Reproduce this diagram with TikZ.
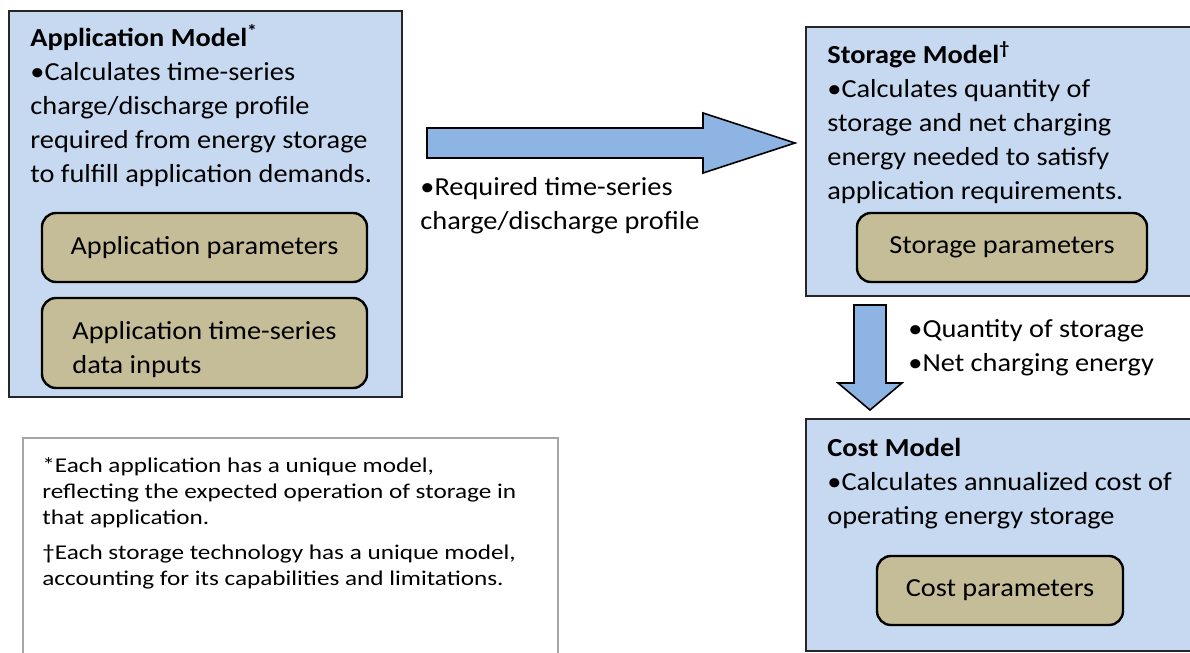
\documentclass[tikz,border=0pt]{standalone}
\usepackage{fontspec}
\setmainfont{Carlito}[FakeStretch=1.09]
\newfontfamily\notefont{Carlito}[FakeStretch=1.2]
\usepackage{tikz}

\definecolor{modelblue}{HTML}{C6D9F1}
\definecolor{paramtan}{HTML}{C4BD97}
\definecolor{flowblue}{HTML}{8EB4E3}
\definecolor{notegray}{HTML}{A6A6A6}

\tikzset{
  model/.style={draw=black!85, line width=1pt, fill=modelblue, anchor=north west, inner sep=0pt},
  param/.style={draw=black, line width=1.2pt, fill=paramtan, rounded corners=7pt, inner sep=0pt,
    font=\fontsize{13}{17}\selectfont},
  body/.style={anchor=north west, inner sep=0pt, align=left, font=\fontsize{13}{17}\selectfont},
  flow/.style={draw=black, line width=0.8pt, fill=flowblue},
}
\newcommand{\firstline}{\rule{0pt}{13pt}}

\begin{document}
\begin{tikzpicture}[x=0.5pt, y=-0.5pt]
\clip (0,0) rectangle (1190,653);

% model boxes
\node[model, minimum width=196.5pt, minimum height=193pt] (appbox) at (8,10) {};
\node[model, minimum width=200pt, minimum height=134.5pt] (storebox) at (805,26) {};
\node[model, minimum width=200pt, minimum height=116pt] (costbox) at (805,418) {};
\node[anchor=north west, draw=notegray, line width=1pt, minimum width=267.5pt, minimum height=130pt, inner sep=0pt] (notebox) at (22,437) {};

% model texts
\node[body] (apptext) at (30,20) {\firstline\textbf{Application Model\textsuperscript{*}}\\
  •Calculates time-series\\ charge/discharge profile\\ required from energy storage\\ to fulfill application demands.};
\node[body] (storetext) at (827,37) {\firstline\textbf{Storage Model\textsuperscript{†}}\\
  •Calculates quantity of\\ storage and net charging\\ energy needed to satisfy\\ application requirements.};
\node[body] (costtext) at (827,430) {\firstline\textbf{Cost Model}\\
  •Calculates annualized cost of\\ operating energy storage};

% parameter boxes
\node[param, minimum width=162.5pt, minimum height=34.5pt] (appparam) at (204.5,247.5) {Application parameters};
\node[param, minimum width=162.5pt, minimum height=45pt, align=left] (appdata) at (204.5,343) {\rule{0pt}{16pt}Application time-series\\ data inputs};
\node[param, minimum width=145pt, minimum height=34.5pt] (storeparam) at (1002,247.5) {Storage parameters};
\node[param, minimum width=123pt, minimum height=34.5pt] (costparam) at (1000,590.5) {Cost parameters};

% flow arrows
\draw[flow] (427,128) -- (703,128) -- (703,113) -- (795,143) -- (703,173) -- (703,158) -- (427,158) -- cycle;
\draw[flow] (854,305) -- (886,305) -- (886,383) -- (902,383) -- (870,410) -- (838,383) -- (854,383) -- cycle;

\node[body] (flowlabel) at (420,169) {\firstline •Required time-series\\ charge/discharge profile};
\node[body] (downlabel) at (908,311) {\firstline •Quantity of storage\\ •Net charging energy};

% footnotes
\node[anchor=north west, inner sep=0pt, align=left, font=\notefont\fontsize{10.5}{13}\selectfont] (notetext) at (42,451)
  {\rule{0pt}{10.5pt}*Each application has a unique model,\\ reflecting the expected operation of storage in\\
   that application.\\[4.5pt] †Each storage technology has a unique model,\\ accounting for its capabilities and limitations.};
\end{tikzpicture}
\end{document}
